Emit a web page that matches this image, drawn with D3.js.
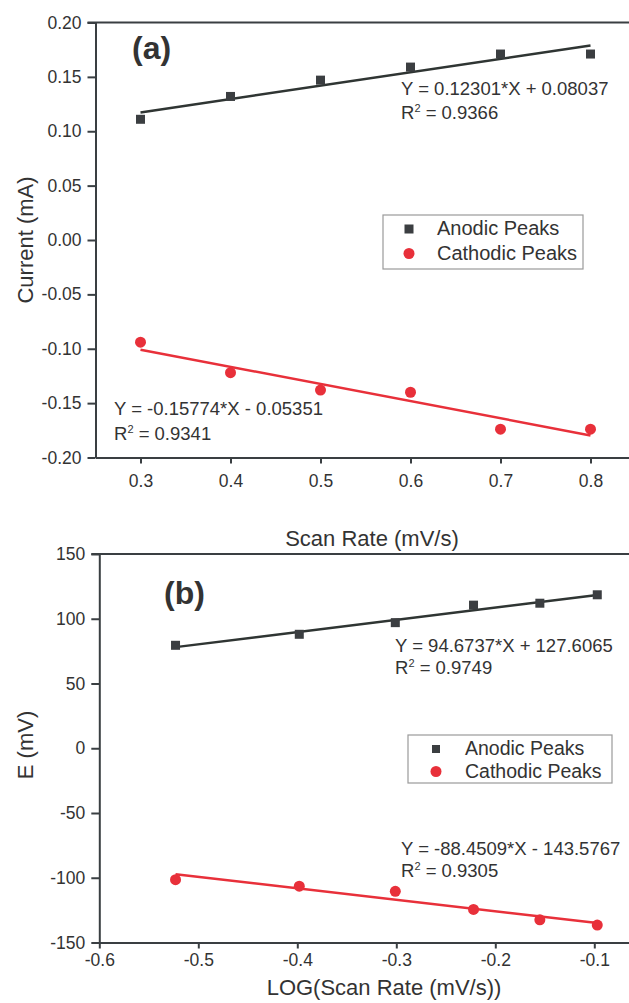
<!DOCTYPE html>
<html>
<head>
<meta charset="utf-8">
<script src="https://cdn.jsdelivr.net/npm/d3@7"></script>
<style>
  body { margin: 0; background: #fff; }
  text { font-family: "Liberation Sans", Arial, sans-serif; fill: #333; }
</style>
</head>
<body>
<script>
// panel (a): peak current vs scan rate
var scanRate = [0.3, 0.4, 0.5, 0.6, 0.7, 0.8];
var anodicCurrent = [0.111, 0.132, 0.147, 0.159, 0.171, 0.171];
var cathodicCurrent = [-0.094, -0.122, -0.138, -0.140, -0.174, -0.174];
var anodicFitA = [0.12301, 0.08037];     // slope, intercept
var cathodicFitA = [-0.15774, -0.05351];
var ticksAX = [0.3, 0.4, 0.5, 0.6, 0.7, 0.8];
var ticksAY = [-0.20, -0.15, -0.10, -0.05, 0.00, 0.05, 0.10, 0.15, 0.20];

// panel (b): peak potential vs log(scan rate)
var logScanRate = [-0.523, -0.398, -0.301, -0.222, -0.155, -0.097];
var anodicE = [79.5, 88, 97, 110.5, 112, 118.5];
var cathodicE = [-101.5, -106.5, -110.5, -124.5, -132.5, -136.5];
var anodicFitB = [94.6737, 127.6065];
var cathodicFitB = [-88.4509, -143.5767];
var ticksBX = [-0.6, -0.5, -0.4, -0.3, -0.2, -0.1];
var ticksBY = [-150, -100, -50, 0, 50, 100, 150];

var seriesNames = ["Anodic Peaks", "Cathodic Peaks"];
var darkColor = "#3b3e41";
var redColor = "#e8303a";

var W = 629, H = 1003;

let svg = d3.select('body').append('svg')
    .attr('width', W)
    .attr('height', H);

svg.append('rect').attr('width', W).attr('height', H).attr('fill', '#fff');

function drawPanel(p) {
    let x = d3.scaleLinear().domain(p.xDomain).range(p.xRange);
    let y = d3.scaleLinear().domain(p.yDomain).range(p.yRange);
    let g = svg.append('g');

    // axes
    let xAxis = d3.axisBottom(x).tickValues(p.xTicks).tickFormat(p.xFmt).tickSize(6).tickSizeOuter(0);
    let yAxis = d3.axisLeft(y).tickValues(p.yTicks).tickFormat(p.yFmt).tickSize(8).tickSizeOuter(0);

    let gx = g.append('g')
        .attr('transform', 'translate(0,' + p.yRange[0] + ')')
        .call(xAxis);
    let gy = g.append('g')
        .attr('transform', 'translate(' + p.xRange[0] + ',0)')
        .call(yAxis);

    [gx, gy].forEach(function (a) {
        a.select('.domain').attr('stroke', '#3a3f42').attr('stroke-width', 2);
        a.selectAll('.tick line').attr('stroke', '#3a3f42').attr('stroke-width', 2);
        a.selectAll('.tick text').attr('fill', '#333')
            .style('font-size', '17.5px')
            .style('font-family', '"Liberation Sans", Arial, sans-serif');
    });
    gx.selectAll('.tick text').attr('y', p.xLabelGap).attr('dy', 0);
    gy.selectAll('.tick text').attr('x', -14);

    // top border
    g.append('line')
        .attr('x1', p.xRange[0] - 8).attr('x2', p.xRange[1])
        .attr('y1', p.yRange[1]).attr('y2', p.yRange[1])
        .attr('stroke', '#3a3f42').attr('stroke-width', 2);

    // fit lines
    function fitLine(fit, xs, color) {
        let x0 = d3.min(xs), x1 = d3.max(xs);
        g.append('line')
            .attr('x1', x(x0)).attr('y1', y(fit[0] * x0 + fit[1]))
            .attr('x2', x(x1)).attr('y2', y(fit[0] * x1 + fit[1]))
            .attr('stroke', color).attr('stroke-width', 2.5);
    }
    fitLine(p.fitA, p.xs, '#2f3533');
    fitLine(p.fitC, p.xs, redColor);

    // markers
    g.selectAll('.sq').data(p.xs.map(function (v, i) { return [v, p.ya[i]]; }))
        .enter().append('rect')
        .attr('x', function (d) { return x(d[0]) - 4.5; })
        .attr('y', function (d) { return y(d[1]) - 4.5; })
        .attr('width', 9).attr('height', 9)
        .attr('fill', darkColor);
    g.selectAll('.dot').data(p.xs.map(function (v, i) { return [v, p.yc[i]]; }))
        .enter().append('circle')
        .attr('cx', function (d) { return x(d[0]); })
        .attr('cy', function (d) { return y(d[1]); })
        .attr('r', 5.5)
        .attr('fill', redColor);

    // panel letter
    g.append('text').attr('x', p.letter[1]).attr('y', p.letter[2])
        .style('font-size', '32px').style('font-weight', 'bold').attr('fill', '#111')
        .text(p.letter[0]);

    // equations
    p.eqs.forEach(function (e) {
        g.append('text').attr('x', e.x).attr('y', e.y)
            .style('font-size', '18.5px').text(e.eq);
        let t = g.append('text').attr('x', e.x).attr('y', e.y + e.gap)
            .style('font-size', '18.5px');
        t.append('tspan').text('R');
        t.append('tspan').attr('dy', -7).style('font-size', '11px').text('2');
        t.append('tspan').attr('dy', 7).text(' = ' + e.r2);
    });

    // legend
    let L = p.legend;
    g.append('rect').attr('x', L.x).attr('y', L.y).attr('width', L.w).attr('height', L.h)
        .attr('fill', '#fff').attr('stroke', '#9a9a9a').attr('stroke-width', 1.2);
    seriesNames.forEach(function (name, i) {
        let cy = L.y + L.row0 + i * L.rowGap;
        if (i === 0) {
            g.append('rect').attr('x', L.x + L.mx - L.sq / 2).attr('y', cy - L.sq / 2)
                .attr('width', L.sq).attr('height', L.sq).attr('fill', darkColor);
        } else {
            g.append('circle').attr('cx', L.x + L.mx).attr('cy', cy).attr('r', 5.5).attr('fill', redColor);
        }
        g.append('text').attr('x', L.x + L.tx).attr('y', cy + 6)
            .style('font-size', L.fs + 'px').text(name);
    });

    // axis titles
    g.append('text').attr('x', p.xTitle[1]).attr('y', p.xTitle[2])
        .attr('text-anchor', 'middle').style('font-size', '22px').text(p.xTitle[0]);
    g.append('text')
        .attr('transform', 'translate(' + p.yTitle[1] + ',' + p.yTitle[2] + ') rotate(-90)')
        .attr('text-anchor', 'middle').style('font-size', '22px').text(p.yTitle[0]);
}

drawPanel({
    xDomain: [0.25, 0.85], xRange: [95.5, 635.5],
    yDomain: [-0.2, 0.2], yRange: [457.5, 22.5],
    xTicks: ticksAX, yTicks: ticksAY, xLabelGap: 29,
    xFmt: function (d) { return d.toFixed(1); },
    yFmt: function (d) { return d.toFixed(2); },
    xs: scanRate, ya: anodicCurrent, yc: cathodicCurrent,
    fitA: anodicFitA, fitC: cathodicFitA,
    letter: ['(a)', 132, 59],
    eqs: [
        { eq: 'Y = 0.12301*X + 0.08037', r2: '0.9366', x: 401, y: 95, gap: 24 },
        { eq: 'Y = -0.15774*X - 0.05351', r2: '0.9341', x: 114, y: 415, gap: 25 }
    ],
    legend: { x: 383, y: 215, w: 200, h: 54, row0: 14, rowGap: 24.5, mx: 26, tx: 54, fs: 20, sq: 9 },
    xTitle: ['Scan Rate (mV/s)', 372, 546],
    yTitle: ['Current (mA)', 33, 240]
});

drawPanel({
    xDomain: [-0.6, -0.05], xRange: [99.3, 643.8],
    yDomain: [-150, 150], yRange: [942.5, 554],
    xTicks: ticksBX, yTicks: ticksBY, xLabelGap: 23,
    xFmt: function (d) { return d.toFixed(1); },
    yFmt: function (d) { return String(d); },
    xs: logScanRate, ya: anodicE, yc: cathodicE,
    fitA: anodicFitB, fitC: cathodicFitB,
    letter: ['(b)', 164, 604],
    eqs: [
        { eq: 'Y = 94.6737*X + 127.6065', r2: '0.9749', x: 395, y: 652, gap: 22 },
        { eq: 'Y = -88.4509*X - 143.5767', r2: '0.9305', x: 401, y: 855, gap: 22 }
    ],
    legend: { x: 408, y: 735, w: 204, h: 48, row0: 14, rowGap: 22.5, mx: 28, tx: 57, fs: 19.5, sq: 8 },
    xTitle: ['LOG(Scan Rate (mV/s))', 384, 995],
    yTitle: ['E (mV)', 33, 745]
});
</script>
</body>
</html>
